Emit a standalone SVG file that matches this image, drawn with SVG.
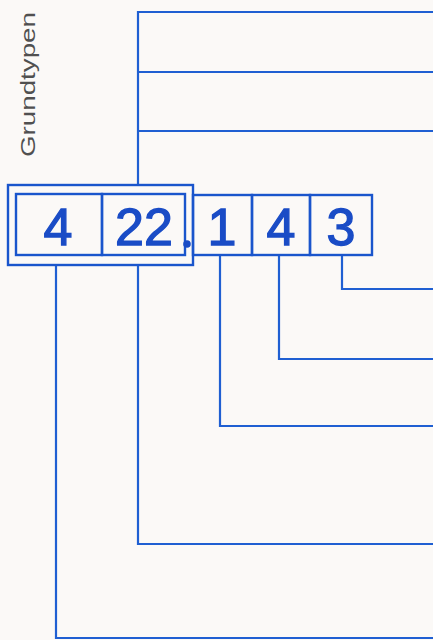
<svg xmlns="http://www.w3.org/2000/svg" width="433" height="640" viewBox="0 0 433 640">
<style>
.ln{fill:none;stroke:#1f5fd2;stroke-width:2.2}
.bx{fill:none;stroke:#1a55cc;stroke-width:2.4}
.dg{font-family:"Liberation Sans",Arial,sans-serif;font-size:52px;fill:#1a4cc6;stroke:#1a4cc6;stroke-width:1.3;text-anchor:middle}
.lb{font-family:"Liberation Sans",Arial,sans-serif;font-size:21px;fill:#505050}
</style>
<rect width="433" height="640" fill="#fbf9f7"/>
<text class="lb" transform="translate(35,157) rotate(-90)" textLength="145" lengthAdjust="spacingAndGlyphs">Grundtypen</text>
<g id="connectors">
<path class="ln" d="M138 185V12H433M138 72H433M138 131H433"/>
<path class="ln" d="M342 255V289H433"/>
<path class="ln" d="M279 255V359H433"/>
<path class="ln" d="M220 255V426H433"/>
<path class="ln" d="M138 265V544H433"/>
<path class="ln" d="M56 265V638H433"/>
</g>
<g id="group-box"><rect class="bx" x="8" y="185" width="185" height="80"/></g>
<g id="cell-4a"><rect class="bx" x="16" y="194" width="86" height="61"/><text class="dg" x="58" y="245">4</text></g>
<g id="cell-22"><rect class="bx" x="102" y="194" width="83" height="61"/><text class="dg" x="144" y="245">22</text><circle cx="187" cy="244" r="3.8" fill="#1a4cc6"/></g>
<g id="cell-1"><rect class="bx" x="193" y="195" width="59" height="60"/><text class="dg" x="222" y="245">1</text></g>
<g id="cell-4b"><rect class="bx" x="252" y="195" width="58" height="60"/><text class="dg" x="281" y="245">4</text></g>
<g id="cell-3"><rect class="bx" x="310" y="195" width="62" height="60"/><text class="dg" x="341" y="245">3</text></g>
</svg>
